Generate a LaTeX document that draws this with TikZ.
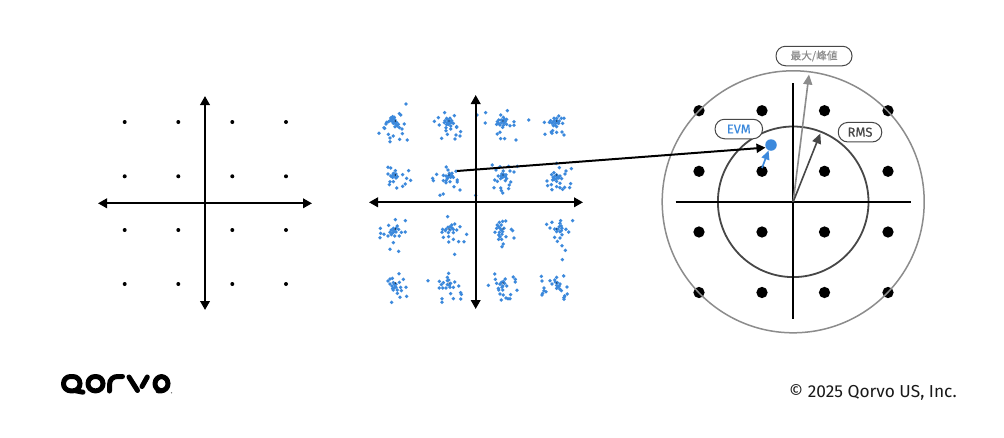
\documentclass[tikz,border=0pt]{standalone}
\usepackage{fontspec}
\setmainfont{Fira Sans}
\usetikzlibrary{arrows.meta}
\definecolor{qblue}{HTML}{3C89DC}
\definecolor{qgray}{HTML}{8C8C8C}
\definecolor{qdark}{HTML}{474747}
\tikzset{
  axis/.style={line width=2.1pt,black,{Triangle[length=9pt,width=9.5pt]}-{Triangle[length=9pt,width=9.5pt]}},
  thinaxis/.style={line width=1.7pt,black},
  scat/.style={fill=qblue,draw=none},
  pill/.style={draw=qdark,line width=1pt,rounded corners=9.5pt,fill=white,inner sep=0pt,minimum height=19.5pt,anchor=center},
  bigdot/.style={circle,fill=black,inner sep=0pt,minimum size=11.3pt},
  smalldot/.style={circle,fill=black,inner sep=0pt,minimum size=4pt},
  logostroke/.style={line width=5pt,black,line cap=round,line join=round},
}
\begin{document}
\begin{tikzpicture}[x=1pt,y=-1pt]
\useasboundingbox[fill=white] (0,0) rectangle (1004,437);
% panel 1
\coordinate (aL) at (98,203.3); \coordinate (aR) at (312,203.3);
\coordinate (aT) at (205,96); \coordinate (aB) at (205,310);
\foreach \x in {124.7,178.3,232.3,286} \foreach \y in {122,176.3,230,284}
  \node[smalldot] at (\x,\y) {};
\draw[axis] (aL) -- (aR);
\draw[axis] (aT) -- (aB);
% panel 2 scatter, upper half
\begin{scope}[shift={(360,90)},x=0.3333pt,y=-0.3333pt]
\foreach \x/\y in {138/42,118/71,122/75,98/80,100/85,95/88,105/90,90/92,97/95,102/95,110/97,80/97,78/102,100/100,108/103,115/103,133/102,72/113,74/115,118/113,126/117,57/130,85/133,100/138,127/131,90/144,90/155,119/148,142/150,112/108,105/110,92/84,103/82,86/95,
254/68,283/77,235/83,223/94,260/85,270/85,265/90,255/92,275/92,262/97,270/98,253/98,280/100,238/105,265/103,272/108,290/110,258/113,272/117,258/122,262/133,302/125,288/135,300/138,245/145,285/147,290/112,268/95,276/98,260/104,
351/75,377/68,376/99,442/62,422/75,430/82,440/88,416/90,428/92,436/95,412/95,424/98,432/100,462/95,410/103,420/105,440/103,450/107,462/106,428/112,412/132,420/127,422/146,434/146,468/150,506/90,424/90,434/88,416/100,430/106,
596/78,582/85,590/85,604/85,612/85,572/92,580/95,590/92,598/93,568/97,553/97,576/100,586/100,596/100,608/100,580/107,590/110,578/122,574/126,590/127,606/126,555/133,576/130,612/135,584/92,592/98,586/106,
84/232,92/234,146/242,106/242,100/250,108/252,84/252,92/258,104/258,112/260,128/254,98/262,108/264,140/265,90/275,100/275,152/271,88/284,136/282,128/289,110/294,104/252,98/256,
259/231,264/240,288/244,230/253,250/256,258/258,268/250,276/250,265/258,272/262,280/262,218/265,262/266,258/272,292/270,220/272,250/272,258/278,270/275,292/276,282/290,300/300,240/316,250/312,270/256,264/262,276/257,
397/225,420/230,446/229,472/229,408/240,430/243,450/243,462/246,425/252,438/254,415/258,432/258,428/262,422/266,440/266,404/270,412/274,436/272,452/276,448/285,402/293,422/294,446/296,424/302,428/309,430/252,436/260,424/258,
590/220,598/233,634/236,618/243,582/248,575/254,590/255,600/258,615/252,580/262,590/266,596/264,605/266,561/273,578/270,590/274,600/280,632/281,563/287,574/284,590/290,614/292,576/299,600/293,629/293,608/298,586/258,594/260,584/268,
347/316} \fill[scat] (\x,\y) circle[radius=1.9pt];
\end{scope}
% panel 2 scatter, lower half
\begin{scope}[shift={(360,200)},x=0.3333pt,y=-0.3333pt]
\foreach \x/\y in {106/59,136/62,86/76,61/85,112/78,100/85,108/85,94/90,104/92,116/88,62/100,72/103,90/97,100/97,124/97,136/96,60/113,84/108,94/104,104/108,118/108,100/128,90/148,116/154,100/92,108/96,96/100,
263/50,284/72,300/80,275/75,264/82,248/88,258/88,270/90,280/88,290/90,246/97,265/98,280/98,320/103,250/112,266/110,280/118,296/125,312/125,266/126,284/163,270/80,276/84,256/92,
418/67,428/64,437/63,412/75,424/75,410/85,420/85,432/85,405/97,418/97,428/95,454/88,458/92,416/105,426/103,438/110,462/114,416/118,425/118,430/132,426/140,424/90,416/80,420/110,
602/62,600/70,576/67,560/73,638/62,604/78,570/84,584/87,594/88,606/85,618/88,590/95,600/95,626/96,606/104,584/112,600/114,592/124,606/137,616/151,607/179,598/80,590/88,604/92,
117/221,97/235,90/237,84/243,130/238,118/247,100/248,90/252,108/253,96/258,104/262,122/262,138/262,112/270,100/270,124/272,112/280,120/292,140/289,95/307,104/254,98/266,108/262,
266/220,262/232,204/242,238/244,262/242,250/248,284/246,272/250,244/254,262/254,296/258,238/264,248/264,258/264,270/262,280/262,302/278,304/283,272/281,246/296,280/296,302/297,246/307,266/240,268/256,
404/222,460/231,466/238,406/238,436/237,466/246,424/247,434/250,420/253,410/250,385/256,428/258,440/258,415/265,428/270,471/271,416/270,420/282,430/285,452/284,438/294,444/296,450/296,424/300,430/244,426/262,
544/229,611/228,590/232,546/243,570/242,584/240,592/248,600/252,576/252,590/256,598/258,621/261,552/264,590/265,600/268,604/272,552/272,558/275,548/280,546/285,622/282,614/288,612/293,612/298,586/246,594/262} \fill[scat] (\x,\y) circle[radius=1.9pt];
\end{scope}
\foreach \x in {395.4,449,503,556.7} \foreach \y in {121,175,229,283}
  \fill[black] (\x,\y) circle[radius=.7];
\coordinate (bL) at (369,202.3); \coordinate (bR) at (583,202.3);
\coordinate (bT) at (475.7,95); \coordinate (bB) at (475.7,309);
\draw[axis] (bL) -- (bR);
\draw[axis] (bT) -- (bB);
% panel 3
\coordinate (c) at (793.2,201.8);
\foreach \x/\xn in {699/a,762/b,824.5/c,888/d} \foreach \y/\yn in {110.7/a,171.3/b,232/c,292.5/d}
  \node[bigdot] (d\xn\yn) at (\x,\y) {};
\node[circle,draw=qgray,line width=1.5pt,minimum size=262pt,inner sep=0pt] (outer) at (c) {};
\node[circle,draw=qdark,line width=1.8pt,minimum size=150.6pt,inner sep=0pt] (inner) at (c) {};
\coordinate (vT) at (793.2,83); \coordinate (vB) at (793.2,319);
\coordinate (hL) at (675.7,201.8); \coordinate (hR) at (911,201.8);
\draw[thinaxis] (vT) -- (vB);
\draw[thinaxis] (hL) -- (hR);
\node[circle,fill=qblue,inner sep=0pt,minimum size=11.5pt] (err) at (771,145) {};
\coordinate (peakTip) at (809,74.5);
\coordinate (rmsTip) at (820.3,133.5);
\coordinate (evmStart) at (762,168);
\coordinate (evmTip) at (768.6,150.5);
\coordinate (linkStart) at (457,171);
\coordinate (linkTip) at (765.5,147.6);
\draw[line width=1.6pt,qgray,-{Triangle[length=10pt,width=9pt]}] (c) -- (peakTip);
\draw[line width=1.6pt,qdark,-{Triangle[length=10pt,width=9pt]}] (c) -- (rmsTip);
\draw[line width=1.7pt,qblue,-{Triangle[length=9pt,width=8pt]}] (evmStart) -- (evmTip);
\draw[line width=2pt,black,-{Triangle[length=9pt,width=9pt]}] (linkStart) -- (linkTip);
% labels
\node[pill,minimum width=76pt,text=qgray] (peak) at (814,56) {\fontspec{Noto Sans CJK JP}[FakeBold=0.4]\fontsize{10.7}{12}\selectfont 最大/峰値};
\node[pill,minimum width=47.5pt,text=qblue] (evm) at (738.8,129) {\addfontfeature{FakeBold=0.4}\fontsize{12.8}{14}\selectfont EVM};
\node[pill,minimum width=43.5pt,text=qdark] (rms) at (860,132.2) {\addfontfeature{FakeBold=0.3}\fontsize{13}{14}\selectfont RMS};
% logo
\draw[logostroke,rounded corners=7pt] (63.5,376.5) rectangle (80,390.8);
\draw[logostroke] (76,390.8) -- (83,392.2);
\draw[logostroke,rounded corners=7pt] (88,376.5) rectangle (103,390.8);
\draw[logostroke] (109.5,391) -- (109.5,385) .. controls (109.5,379.5) and (113,376.5) .. (117.5,376.5) -- (122.5,376.5);
\draw[logostroke] (129,377) -- (137.5,390.5);
\draw[logostroke] (147.3,377) -- (142,386.5);
\draw[logostroke,rounded corners=7pt] (158,390.8) -- (155,390.8) -- (155,376.5) -- (168,376.5) -- (168,390.8) -- (162,390.8);
\fill[black!60] (171.6,392.8) circle[radius=.7];
% copyright
\node[anchor=base west,inner sep=0pt,text=black!90] (copy) at (789,397) {\fontsize{17.3}{19}\selectfont © 2025 Qorvo US, Inc.};
\end{tikzpicture}
\end{document}
